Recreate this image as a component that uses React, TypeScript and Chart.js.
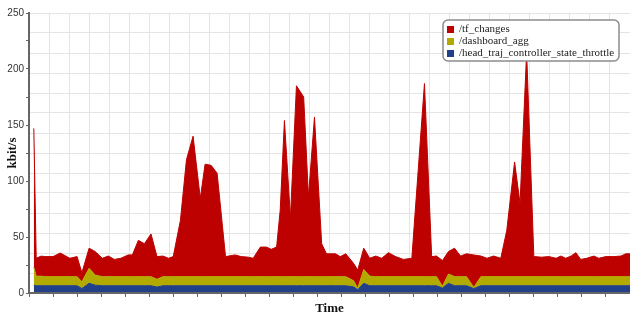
import React, { useEffect, useRef } from 'react';
import { Chart, registerables } from 'chart.js';

Chart.register(...registerables);

// Time axis values (seconds)
const times = [
  0.8, 1.2, 2.0, 2.8, 4.0, 5.2, 6.8, 8.0, 8.8, 10.0, 11.0, 12.2, 13.2, 14.2, 15.3, 16.5, 17.2, 18.2, 19.2, 20.3,
  21.3, 22.3, 23.2, 24.0, 25.2, 26.2, 27.3, 28.5, 29.3, 30.3, 31.3, 32.7, 34.3, 35.3, 36.5, 37.3, 38.5, 39.5, 40.3, 41.2,
  41.8, 42.5, 43.5, 44.5, 45.7, 46.5, 47.5, 48.7, 49.5, 51.0, 51.8, 52.7, 54.0, 54.7, 55.7, 56.7, 57.7, 58.7, 59.8, 61.0,
  62.3, 63.7, 65.8, 67.0, 67.8, 68.8, 69.8, 70.8, 71.8, 72.8, 74.0, 75.2, 76.2, 77.3, 78.5, 79.5, 80.8, 81.7, 82.8, 84.0,
  85.3, 86.5, 87.7, 88.5, 89.3, 90.2, 91.0, 91.8, 92.8, 94.0, 94.8, 96.0, 97.3, 98.5, 99.3, 100.0,
];

// kbit/s per topic (stacked)
const tfChanges = [
  124, 16, 17.9, 17.9, 17.9, 21.1, 16.4, 17.9, 8, 18, 21, 16.4, 18.4, 15.4, 16.4, 19.4, 19.4, 32.4, 29.4, 38.1,
  20.3, 18.4, 16.4, 17.9, 50.4, 104.4, 125.4, 69.9, 100.4, 99.4, 92.4, 17.9, 19.4, 17.9, 17.4, 16.4, 26.4, 26.4, 24.4, 26.4,
  59.4, 139.4, 52.4, 170.4, 160.4, 71.4, 142.4, 29.4, 20.4, 20.4, 17.9, 20.4, 15.5, 16.3, 19, 16, 18.4, 16.4, 21.4, 17.9,
  15.4, 16.4, 172.4, 17.9, 18.4, 23, 20, 25.4, 18.4, 20.4, 29, 18.4, 16.4, 18.4, 16.4, 41.4, 102.4, 65.4, 200.4, 17.9,
  17.4, 17.9, 16.4, 18.4, 16.4, 18.4, 21.4, 15.4, 16.4, 18.4, 16.4, 17.9, 17.9, 18.4, 20.4, 20.4,
];

const dashboardAgg = [
  16, 8.5, 8.5, 8.1, 8.1, 8.1, 8.1, 8.1, 6, 13.3, 9, 8.1, 8.1, 8.1, 8.1, 8.1, 8.1, 8.1, 8.1, 8.1,
  6.9, 8.1, 8.1, 8.1, 8.1, 8.1, 8.1, 8.1, 8.1, 8.1, 8.1, 8.1, 8.1, 8.1, 8.1, 8.1, 8.1, 8.1, 8.1, 8.1,
  8.1, 8.1, 8.1, 8.1, 8.1, 8.1, 8.1, 8.1, 8.1, 8.1, 8.1, 8.1, 5.5, 1.2, 12.3, 8.5, 8.1, 8.1, 8.1, 8.1,
  8.1, 8.1, 8.1, 8.1, 8.1, 1.5, 8.3, 8.1, 8.1, 8.1, 1, 8.1, 8.1, 8.1, 8.1, 8.1, 8.1, 8.1, 8.1, 8.1,
  8.1, 8.1, 8.1, 8.1, 8.1, 8.1, 8.1, 8.1, 8.1, 8.1, 8.1, 8.1, 8.1, 8.1, 8.1, 8.1,
];

const headTrajThrottle = [
  7, 6.5, 6.5, 6.5, 6.5, 6.5, 6.5, 6.5, 4, 8.7, 7, 6.5, 6.5, 6.5, 6.5, 6.5, 6.5, 6.5, 6.5, 6.5,
  5.3, 6.5, 6.5, 6.5, 6.5, 6.5, 6.5, 6.5, 6.5, 6.5, 6.5, 6.5, 6.5, 6.5, 6.5, 6.5, 6.5, 6.5, 6.5, 6.5,
  6.5, 6.5, 6.5, 6.5, 6.5, 6.5, 6.5, 6.5, 6.5, 6.5, 6.5, 6.5, 5.5, 3, 8.7, 6.5, 6.5, 6.5, 6.5, 6.5,
  6.5, 6.5, 6.5, 6.5, 6.5, 4.5, 8.7, 6.5, 6.5, 6.5, 4, 6.5, 6.5, 6.5, 6.5, 6.5, 6.5, 6.5, 6.5, 6.5,
  6.5, 6.5, 6.5, 6.5, 6.5, 6.5, 6.5, 6.5, 6.5, 6.5, 6.5, 6.5, 6.5, 6.5, 6.5, 6.5,
];

const seriesLabels = ['/tf_changes', '/dashboard_agg', '/head_traj_controller_state_throttle'];
const seriesColors = ['#bd0000', '#b3aa00', '#22408a'];
const yAxisTitle = 'kbit/s';
const xAxisTitle = 'Time';

const toPoints = (vals: number[]) => vals.map((v, i) => ({ x: times[i], y: v }));

const boxLegend = {
  id: 'boxLegend',
  afterDraw(chart: any) {
    const { ctx, chartArea } = chart;
    const w = 176;
    const h = 41;
    const x = chartArea.right - 11 - w;
    const y = chartArea.top + 7;
    ctx.save();
    ctx.beginPath();
    ctx.roundRect(x, y, w, h, 5);
    ctx.fillStyle = '#ffffff';
    ctx.fill();
    ctx.lineWidth = 1.5;
    ctx.strokeStyle = '#8c8c8c';
    ctx.stroke();
    ctx.font = '11px "Liberation Serif"';
    ctx.textBaseline = 'middle';
    ctx.textAlign = 'left';
    seriesLabels.forEach((label, i) => {
      const cy = y + 9.5 + i * 12;
      ctx.fillStyle = seriesColors[i];
      ctx.fillRect(x + 4, cy - 3.5, 7, 7);
      ctx.fillStyle = '#222';
      ctx.fillText(label, x + 16, cy);
    });
    ctx.restore();
  },
};

export default function App() {
  const canvasRef = useRef<HTMLCanvasElement | null>(null);

  useEffect(() => {
    const canvas = canvasRef.current;
    if (!canvas) return;
    const gridColor = '#e4e4e4';
    const axisColor = '#666666';
    const chart = new Chart(canvas, {
      type: 'line',
      data: {
        datasets: [
          {
            label: seriesLabels[2],
            data: toPoints(headTrajThrottle),
            backgroundColor: seriesColors[2],
            borderColor: seriesColors[2],
            borderWidth: 1,
            pointRadius: 0,
            fill: 'origin',
            tension: 0,
          },
          {
            label: seriesLabels[1],
            data: toPoints(dashboardAgg),
            backgroundColor: seriesColors[1],
            borderColor: seriesColors[1],
            borderWidth: 1,
            pointRadius: 0,
            fill: '-1',
            tension: 0,
          },
          {
            label: seriesLabels[0],
            data: toPoints(tfChanges),
            backgroundColor: seriesColors[0],
            borderColor: seriesColors[0],
            borderWidth: 1,
            pointRadius: 0,
            fill: '-1',
            tension: 0,
          },
        ],
      },
      options: {
        responsive: false,
        animation: false,
        devicePixelRatio: 1,
        layout: { padding: { top: 13, right: 0, bottom: 0, left: 0 } },
        plugins: {
          legend: { display: false },
          tooltip: { enabled: false },
        },
        scales: {
          x: {
            type: 'linear',
            position: 'bottom',
            min: 0,
            max: 100,
            ticks: { display: false, stepSize: 4, maxTicksLimit: 1000 },
            grid: { drawOnChartArea: false, drawTicks: true, tickLength: 4, color: axisColor },
            border: { color: axisColor, width: 2, z: 1 },
            title: {
              display: true,
              text: xAxisTitle,
              color: '#111',
              font: { family: 'Liberation Serif', weight: 'bold', size: 13, lineHeight: 1 },
              padding: { top: 0, bottom: 0 },
            },
            afterFit: (s: any) => {
              s.height = 22;
            },
          },
          xGrid: {
            type: 'linear',
            position: 'top',
            min: 0,
            max: 30,
            ticks: { display: false, stepSize: 1, maxTicksLimit: 1000 },
            grid: { color: gridColor, drawTicks: false, lineWidth: 1 },
            border: { display: false },
            afterFit: (s: any) => {
              s.height = 0;
            },
          },
          y: {
            type: 'linear',
            position: 'left',
            stacked: true,
            min: 0,
            max: 250,
            ticks: {
              stepSize: 25,
              maxTicksLimit: 1000,
              autoSkip: false,
              padding: 2,
              color: '#333',
              font: { family: 'Liberation Sans', size: 10 },
              callback: (v: any) => (Number(v) % 50 === 0 ? String(v) : ''),
            },
            grid: { drawOnChartArea: false, drawTicks: true, tickLength: 3, color: axisColor },
            border: { color: axisColor, width: 2, z: 1 },
            title: {
              display: true,
              text: yAxisTitle,
              color: '#111',
              font: { family: 'Liberation Serif', weight: 'bold', size: 13, lineHeight: 1 },
              padding: { top: 6, bottom: 0 },
            },
            afterFit: (s: any) => {
              s.width = 29;
            },
          },
          yGrid: {
            type: 'linear',
            position: 'right',
            min: 0,
            max: 14,
            ticks: { display: false, stepSize: 1, maxTicksLimit: 1000 },
            grid: { color: gridColor, drawTicks: false, lineWidth: 1 },
            border: { display: false },
            afterFit: (s: any) => {
              s.width = 0;
            },
          },
        },
      } as any,
      plugins: [boxLegend],
    });
    return () => {
      chart.destroy();
    };
  }, []);

  return (
    <div style={{ position: 'absolute', left: 0, top: 0, width: 630, height: 315, background: '#fff' }}>
      <canvas ref={canvasRef} width={630} height={315} />
    </div>
  );
}
